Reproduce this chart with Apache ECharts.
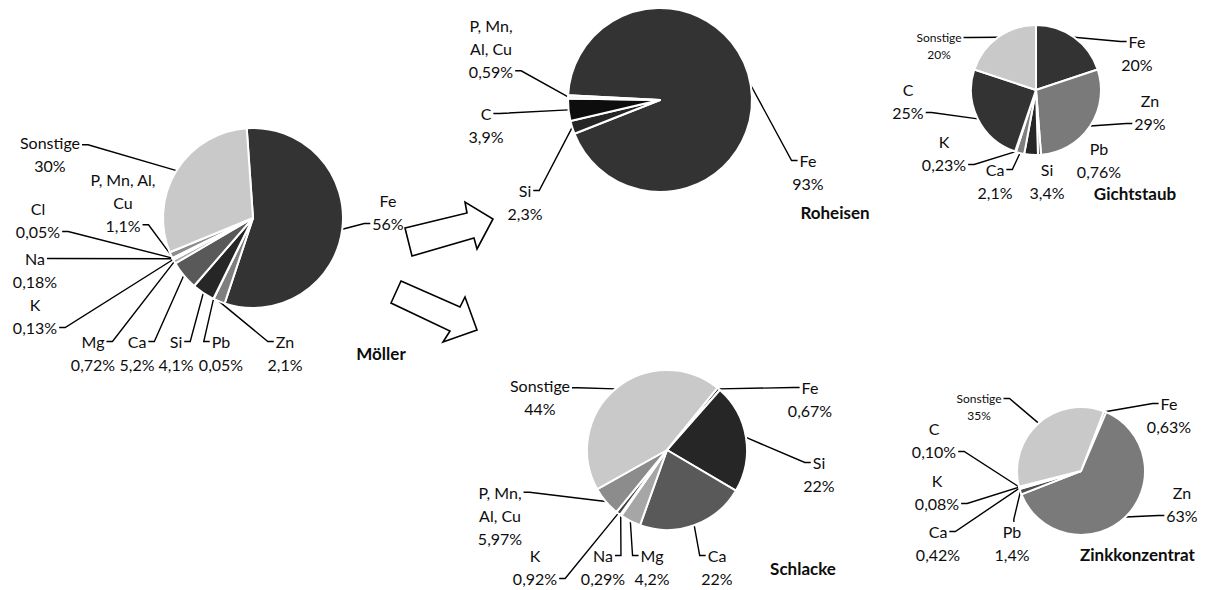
<!DOCTYPE html>
<html>
<head>
<meta charset="utf-8">
<title>Elementverteilung Hochofen</title>
<script src="https://cdn.jsdelivr.net/npm/echarts@6/dist/echarts.min.js"></script>
<style>
  html, body { margin: 0; padding: 0; background: #ffffff; }
  #chart { width: 1221px; height: 590px; }
</style>
</head>
<body>
<div id="chart"></div>
<script>
// Massenanteile der Elemente je Stoffstrom (Angaben in %, deutsche Schreibweise)
const moellerNames = ['Fe', 'Zn', 'Pb', 'Si', 'Ca', 'Mg', 'K', 'Na', 'Cl', 'P, Mn, Al, Cu', 'Sonstige'];
const moellerShares = ['56', '2,1', '0,05', '4,1', '5,2', '0,72', '0,13', '0,18', '0,05', '1,1', '30'];

const roheisenNames = ['Fe', 'Si', 'C', 'P, Mn, Al, Cu'];
const roheisenShares = ['93', '2,3', '3,9', '0,59'];

const gichtstaubNames = ['Fe', 'Zn', 'Pb', 'Si', 'Ca', 'K', 'C', 'Sonstige'];
const gichtstaubShares = ['20', '29', '0,76', '3,4', '2,1', '0,23', '25', '20'];

const schlackeNames = ['Fe', 'Si', 'Ca', 'Mg', 'Na', 'K', 'P, Mn, Al, Cu', 'Sonstige'];
const schlackeShares = ['0,67', '22', '22', '4,2', '0,29', '0,92', '5,97', '44'];

const zinkNames = ['Fe', 'Zn', 'Pb', 'Ca', 'K', 'C', 'Sonstige'];
const zinkShares = ['0,63', '63', '1,4', '0,42', '0,08', '0,10', '35'];

const titles = ['Möller', 'Roheisen', 'Gichtstaub', 'Schlacke', 'Zinkkonzentrat'];

// Darstellung
const FONT = 'Lato, "Open Sans", sans-serif';
const TEXT_COLOR = '#0d0d0d';
const FONT_SIZE = 16, LINE_HEIGHT = 23;
const SMALL_SIZE = 12, SMALL_LINE = 17;
const sliceColors = {
  'Fe': '#333333', 'Zn': '#7f7f7f', 'Pb': '#4d4d4d', 'Si': '#262626', 'Ca': '#595959',
  'Mg': '#a6a6a6', 'K': '#404040', 'Na': '#bfbfbf', 'Cl': '#8c8c8c',
  'P, Mn, Al, Cu': '#8c8c8c', 'Sonstige': '#c9c9c9', 'C': '#0d0d0d'
};

// Lage der Kreise und Beschriftungen: [x, y, Seite der Führungslinie, Höhe entlang der Seite]
const layouts = [
  {
    names: moellerNames, shares: moellerShares,
    center: [253, 218], radius: 90, startAngle: 94,
    labels: {
      'Fe': [388, 212, 'l', 0.75],
      'Zn': [285, 353, 'l', 0.25],
      'Pb': [221, 353, 'l', 0.25],
      'Si': [176, 353, 'r', 0.25],
      'Ca': [137, 353, 'r', 0.25],
      'Mg': [93, 353, 'r', 0.25],
      'K': [35, 316, 'r', 0.75],
      'Na': [35, 270, 'r', 0.25],
      'Cl': [38, 220, 'r', 0.75],
      'P, Mn, Al, Cu': [123, 202, 'r', 0.83],
      'Sonstige': [50, 154, 'r', 0.3]
    },
    wrap: { 'P, Mn, Al, Cu': 'P, Mn, Al,\nCu' }
  },
  {
    names: roheisenNames, shares: roheisenShares,
    center: [660, 100], radius: 92, startAngle: 177,
    labels: {
      'Fe': [808, 172, 'l', 0.25],
      'Si': [525, 202, 'r', 0.25],
      'C': [486, 125, 'r', 0.25],
      'P, Mn, Al, Cu': [491, 48, 'r', 0.83]
    },
    wrap: { 'P, Mn, Al, Cu': 'P, Mn,\nAl, Cu' },
    colors: { 'P, Mn, Al, Cu': '#f2f2f2' }
  },
  {
    names: gichtstaubNames, shares: gichtstaubShares,
    center: [1036, 90], radius: 65, startAngle: 90,
    labels: {
      'Fe': [1137, 53, 'l', 0.25],
      'Zn': [1150, 112, 'l', 0.75],
      'Pb': [1099, 160, null, 0],
      'Si': [1047, 181, null, 0],
      'Ca': [995, 181, 'r', 0.25],
      'K': [944, 153, 'r', 0.75],
      'C': [908, 101, 'r', 0.75],
      'Sonstige': [939, 46, 'r', 0.25]
    },
    small: ['Sonstige'],
    colors: { 'C': '#333333', 'Ca': '#7f7f7f', 'Zn': '#7a7a7a' }
  },
  {
    names: schlackeNames, shares: schlackeShares,
    center: [667, 450], radius: 80, startAngle: 51,
    labels: {
      'Fe': [810, 399, 'l', 0.25],
      'Si': [819, 474, 'l', 0.25],
      'Ca': [717, 567, 'l', 0.25],
      'Mg': [652, 567, 'l', 0.25],
      'Na': [603, 567, 'r', 0.25],
      'K': [535, 567, 'r', 0.75],
      'P, Mn, Al, Cu': [500, 515, 'r', 0.17],
      'Sonstige': [540, 397, 'r', 0.3]
    },
    wrap: { 'P, Mn, Al, Cu': 'P, Mn,\nAl, Cu' }
  },
  {
    names: zinkNames, shares: zinkShares,
    center: [1081, 471], radius: 64, startAngle: 69,
    labels: {
      'Fe': [1169, 415, 'l', 0.25],
      'Zn': [1182, 504, 'l', 0.75],
      'Pb': [1012, 543, 't', 0.6],
      'Ca': [938, 543, 'r', 0.25],
      'K': [937, 492, 'r', 0.75],
      'C': [934, 440, 'r', 0.75],
      'Sonstige': [979, 407, 'r', 0.25]
    },
    small: ['Sonstige'],
    colors: { 'Zn': '#7a7a7a' }
  }
];

const titlePositions = [
  [381, 353, 'center'], [835, 212, 'center'], [1135, 193, 'center'],
  [803, 568, 'center'], [1080, 554, 'left']
];

function toNumber(s) { return parseFloat(s.replace(',', '.')); }

// Breite einzelner Textzeilen, damit die Führungslinien an der jeweiligen Zeile ansetzen
const measureCtx = document.createElement('canvas').getContext('2d');
function textWidth(text, size) {
  measureCtx.font = size + 'px ' + FONT;
  return measureCtx.measureText(text).width;
}

function labelText(cfg, i) {
  const wrap = cfg.wrap || {};
  const name = cfg.names[i];
  return (wrap[name] || name) + '\n' + cfg.shares[i] + '%';
}

function buildSeries(cfg) {
  const small = cfg.small || [];
  const colors = cfg.colors || {};
  const data = cfg.names.map(function (name, i) {
    const item = {
      name: name,
      value: toNumber(cfg.shares[i]),
      itemStyle: { color: colors[name] || sliceColors[name] }
    };
    if (small.indexOf(name) >= 0) {
      item.label = { fontSize: SMALL_SIZE, lineHeight: SMALL_LINE };
    }
    if (!cfg.labels[name][2]) {
      item.labelLine = { show: false };
    }
    return item;
  });
  return {
    type: 'pie',
    center: cfg.center,
    radius: cfg.radius,
    startAngle: cfg.startAngle,
    clockwise: true,
    avoidLabelOverlap: false,
    animation: false,
    silent: true,
    emphasis: { disabled: true },
    itemStyle: { borderColor: '#ffffff', borderWidth: 2 },
    label: {
      show: true,
      position: 'outside',
      fontFamily: FONT,
      fontSize: FONT_SIZE,
      lineHeight: LINE_HEIGHT,
      color: TEXT_COLOR,
      align: 'center',
      formatter: function (p) { return labelText(cfg, p.dataIndex); }
    },
    labelLine: {
      show: true,
      length: 8,
      length2: 8,
      lineStyle: { color: '#000000', width: 1.4 }
    },
    labelLayout: function (p) {
      const name = cfg.names[p.dataIndex];
      const L = cfg.labels[name];
      const h = p.labelRect.height;
      const res = { x: L[0], y: L[1], align: 'center', verticalAlign: 'middle' };
      if (L[2] && p.labelLinePoints) {
        const isSmall = small.indexOf(name) >= 0;
        const lines = labelText(cfg, p.dataIndex).split('\n');
        const row = Math.min(lines.length - 1, Math.floor(L[3] * lines.length));
        const lw = textWidth(lines[row], isSmall ? SMALL_SIZE : FONT_SIZE);
        const a = p.labelLinePoints[0];
        const top = L[1] - h / 2;
        let ax, ay, sx, sy;
        if (L[2] === 'r') {
          ax = L[0] + lw / 2 + 2; ay = top + L[3] * h; sx = ax + 6; sy = ay;
        } else if (L[2] === 'l') {
          ax = L[0] - lw / 2 - 2; ay = top + L[3] * h; sx = ax - 6; sy = ay;
        } else {
          const w0 = textWidth(lines[0], FONT_SIZE);
          ax = L[0] - w0 / 2 + L[3] * w0; ay = top + 2; sx = ax; sy = ay - 3;
        }
        res.labelLinePoints = [[a[0], a[1]], [sx, sy], [ax, ay]];
      }
      return res;
    },
    data: data
  };
}

// Blockpfeile vom Möller zu den Produkten
const arrowStyle = { fill: '#ffffff', stroke: '#000000', lineWidth: 1.6 };
const arrows = [
  [[405, 228], [467, 213], [465, 202], [493, 219], [477, 249], [474, 238], [412, 256]],
  [[401, 281], [460, 307], [465, 297], [477, 330], [443, 342], [450, 331], [391, 303]]
];

const graphics = arrows.map(function (pts) {
  return { type: 'polygon', shape: { points: pts }, style: arrowStyle, silent: true };
}).concat(titles.map(function (t, i) {
  const pos = titlePositions[i];
  return {
    type: 'text', x: pos[0], y: pos[1], silent: true,
    style: {
      text: t, fill: '#0d0d0d', font: 'bold 17px ' + FONT,
      textAlign: pos[2], textVerticalAlign: 'middle'
    }
  };
}));

const chart = echarts.init(document.getElementById('chart'), null, { renderer: 'svg' });
chart.setOption({
  backgroundColor: '#ffffff',
  animation: false,
  series: layouts.map(buildSeries),
  graphic: graphics
});
</script>
</body>
</html>
